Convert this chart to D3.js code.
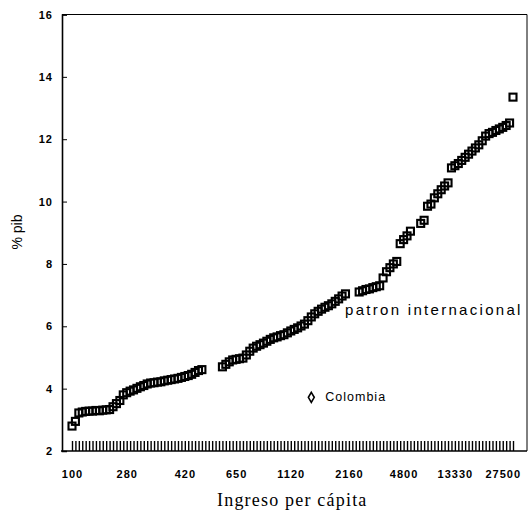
<!DOCTYPE html>
<html>
<head>
  <meta charset="utf-8">
  <title>% pib - patron internacional</title>
  <script src="https://d3js.org/d3.v7.min.js"></script>
  <style>
    body { margin: 0; background: #fff; }
  </style>
</head>
<body>
<script type="text/javascript">
  // patron internacional: % pib per country, countries ordered by income (null = no mark)
  var pibValues = [
    2.80, 2.95, 3.22, 3.25, 3.27, 3.28, 3.28, 3.30, 3.29, 3.31,
    3.32, 3.33, 3.42, 3.52, 3.62, 3.80, 3.87, 3.92, 3.96, 4.01,
    4.06, 4.10, 4.15, 4.18, 4.19, 4.21, 4.22, 4.25, 4.27, 4.29,
    4.31, 4.33, 4.36, 4.39, 4.42, 4.46, 4.52, 4.58, 4.61, null,
    null, null, null, null, 4.70, 4.78, 4.86, 4.92, 4.94, 4.96,
    4.98, 5.08, 5.20, 5.30, 5.36, 5.41, 5.46, 5.52, 5.58, 5.63,
    5.66, 5.70, 5.73, 5.79, 5.85, 5.90, 5.95, 6.01, 6.07, 6.18,
    6.30, 6.40, 6.48, 6.55, 6.61, 6.66, 6.72, 6.80, 6.88, 6.97,
    7.04, null, null, null, 7.10, 7.14, 7.18, 7.20, 7.24, 7.27,
    7.30, 7.55, 7.75, 7.88, 8.00, 8.08, 8.65, 8.78, 8.90, 9.05,
    null, null, 9.30, 9.40, 9.85, 9.92, 10.12, 10.25, 10.38, 10.50,
    10.60, 11.08, 11.15, 11.22, 11.32, 11.42, 11.52, 11.62, 11.72, 11.82,
    11.95, 12.10, 12.18, 12.22, 12.28, 12.33, 12.38, 12.44, 12.52, 13.35
  ];
  var xTickIndex = [0, 16, 33, 48, 64, 81, 97, 112, 126];
  var xTickLabels = ["100", "280", "420", "650", "1120", "2160", "4800", "13330", "27500"];
  var yTicks = [2, 4, 6, 8, 10, 12, 14, 16];
  var colombiaIndex = 70;
  var colombiaValue = 3.72;

  var w = 529;
  var h = 511;
  var padL = 62, padR = 527, padT = 14.5, padB = 451;

  var svg = d3.select("body").append("svg")
    .attr("width", w)
    .attr("height", h);

  var xScale = d3.scaleLinear()
    .domain([0, pibValues.length - 1])
    .range([72, 513]);

  var yScale = d3.scaleLinear()
    .domain([2, 16])
    .range([padB, padT]);

  // frame
  svg.append("line")
    .attr("x1", padL).attr("y1", padT).attr("x2", padR).attr("y2", padT)
    .attr("stroke", "#000").attr("stroke-width", 1);
  svg.append("line")
    .attr("x1", padR).attr("y1", padT).attr("x2", padR).attr("y2", padB)
    .attr("stroke", "#000").attr("stroke-width", 1);

  // y axis
  var yAxis = svg.append("g")
    .attr("transform", "translate(" + padL + ",0)")
    .call(d3.axisLeft(yScale).tickValues(yTicks).tickSize(-5).tickPadding(9));
  yAxis.select(".domain").attr("stroke-width", 1.6);
  yAxis.selectAll("text")
    .attr("font-family", "Liberation Sans, Arial, sans-serif")
    .attr("font-weight", "bold")
    .attr("font-size", 11)
    .attr("letter-spacing", 1)
    .attr("fill", "#000");

  // rug of countries along the bottom
  var rug = svg.append("g")
    .attr("transform", "translate(0," + padB + ")")
    .call(d3.axisBottom(xScale).tickValues(d3.range(pibValues.length)).tickSize(-10).tickFormat(""));
  rug.select(".domain").remove();
  rug.selectAll("line").attr("stroke-width", 1.4);

  svg.append("line")
    .attr("x1", padL - 1).attr("y1", padB).attr("x2", padR).attr("y2", padB)
    .attr("stroke", "#000").attr("stroke-width", 1.6);

  // income labels
  var xAxis = svg.append("g")
    .attr("transform", "translate(0," + padB + ")")
    .call(d3.axisBottom(xScale).tickValues(xTickIndex).tickSize(0).tickPadding(19)
      .tickFormat(function(d, i){ return xTickLabels[i]; }));
  xAxis.select(".domain").remove();
  xAxis.selectAll("text")
    .attr("font-family", "Liberation Sans, Arial, sans-serif")
    .attr("font-weight", "bold")
    .attr("font-size", 11)
    .attr("letter-spacing", 1)
    .attr("fill", "#000");

  // squares
  var pts = pibValues
    .map(function(v, i){ return {i: i, v: v}; })
    .filter(function(d){ return d.v !== null; });

  svg.selectAll("rect.pt")
    .data(pts)
    .enter()
    .append("rect")
      .attr("class", "pt")
      .attr("x", function(d){ return xScale(d.i) - 3.5; })
      .attr("y", function(d){ return yScale(d.v) - 3.5; })
      .attr("width", 7)
      .attr("height", 7)
      .attr("fill", "none")
      .attr("stroke", "#000")
      .attr("stroke-width", 2.1);

  // Colombia
  svg.append("path")
    .attr("d", d3.symbol().type(d3.symbolDiamond).size(30)())
    .attr("transform", "translate(" + xScale(colombiaIndex) + "," + yScale(colombiaValue) + ")")
    .attr("fill", "none")
    .attr("stroke", "#000")
    .attr("stroke-width", 1.6);

  svg.append("text")
    .attr("x", xScale(colombiaIndex) + 14)
    .attr("y", yScale(colombiaValue) + 4)
    .attr("font-family", "Liberation Sans, Arial, sans-serif")
    .attr("font-size", 12.5)
    .attr("letter-spacing", 1)
    .text("Colombia");

  svg.append("text")
    .attr("x", 345)
    .attr("y", 315)
    .attr("font-family", "Liberation Sans, Arial, sans-serif")
    .attr("font-size", 15)
    .attr("letter-spacing", 2.3)
    .text("patron internacional");

  // axis titles
  svg.append("text")
    .attr("transform", "translate(22,232) rotate(-90)")
    .attr("text-anchor", "middle")
    .attr("font-family", "Liberation Sans, Arial, sans-serif")
    .attr("font-size", 14)
    .text("% pib");

  svg.append("text")
    .attr("x", 217)
    .attr("y", 506)
    .attr("font-family", "Liberation Serif, Times New Roman, serif")
    .attr("font-size", 18)
    .attr("letter-spacing", 1.2)
    .text("Ingreso per cápita");
</script>
</body>
</html>
